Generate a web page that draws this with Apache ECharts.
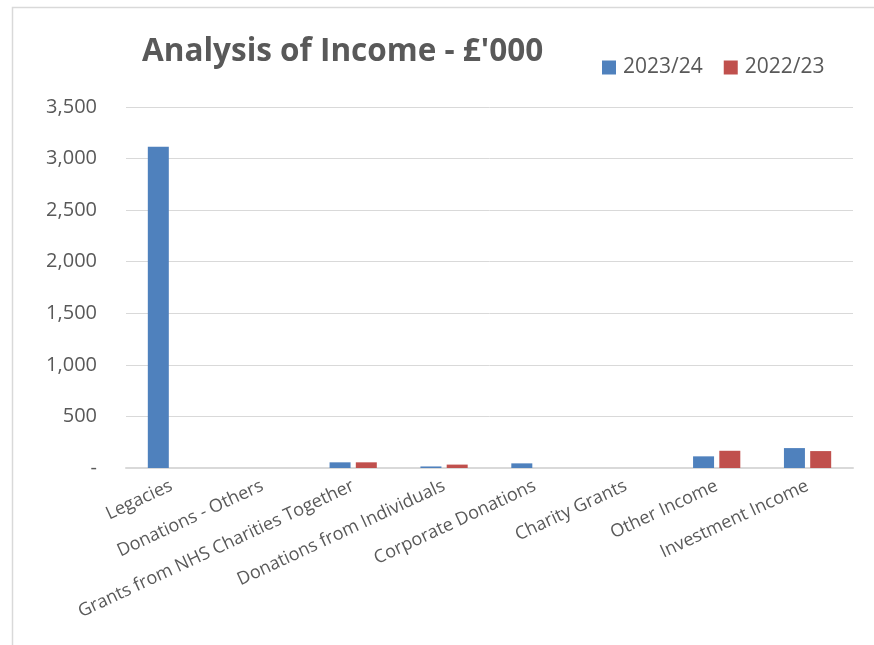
<!DOCTYPE html>
<html>
<head>
<meta charset="utf-8">
<script src="https://cdn.jsdelivr.net/npm/echarts@6/dist/echarts.min.js"></script>
<style>
html,body{margin:0;padding:0;background:#fff;}
#chart{width:874px;height:645px;}
</style>
</head>
<body>
<div id="chart"></div>
<script>
var categories = ['Legacies', 'Donations - Others', 'Grants from NHS Charities Together', 'Donations from Individuals', 'Corporate Donations', 'Charity Grants', 'Other Income', 'Investment Income'];
var seriesNames = ['2023/24', '2022/23'];
var values2023 = [3114, 0, 55, 15, 45, 0, 113, 193];
var values2022 = [0, 0, 55, 33, 0, 0, 167, 164];
var yTicks = { min: 0, max: 3500, interval: 500 };

var FONT = 'Open Sans';
var TXT = '#595959';
var chart = echarts.init(document.getElementById('chart'), null, { renderer: 'canvas' });
chart.setOption({
  animation: false,
  backgroundColor: '#ffffff',
  graphic: [{
    type: 'rect', left: 10, top: 5,
    shape: { width: 880, height: 660 },
    style: { fill: 'none', stroke: '#d9d9d9', lineWidth: 1.5 }
  }],
  title: {
    text: "Analysis of Income - £'000",
    left: 137, top: 31,
    textStyle: { fontFamily: FONT, fontWeight: 'bold', fontSize: 31.5, color: TXT }
  },
  legend: {
    data: seriesNames,
    left: 597, top: 52,
    itemWidth: 14, itemHeight: 14, itemGap: 21,
    icon: 'rect',
    textStyle: { fontFamily: FONT, fontSize: 21, color: TXT, padding: [0, 0, 0, 2] }
  },
  grid: { left: 126, right: 21, top: 107, bottom: 177, containLabel: false },
  xAxis: {
    type: 'category',
    data: categories,
    boundaryGap: true,
    axisLine: { lineStyle: { color: '#d9d9d9', width: 2 } },
    axisTick: { show: false },
    axisLabel: { rotate: 25, fontFamily: FONT, fontSize: 18, color: TXT, margin: 17, interval: 0 }
  },
  yAxis: {
    type: 'value',
    min: yTicks.min, max: yTicks.max, interval: yTicks.interval,
    axisLine: { show: false },
    axisTick: { show: false },
    splitLine: { lineStyle: { color: '#d9d9d9', width: 1 } },
    axisLabel: {
      fontFamily: FONT, fontSize: 20, color: TXT, margin: 29,
      formatter: function (v) { return v === 0 ? '-' : v.toLocaleString('en-GB'); }
    }
  },
  series: [
    { name: seriesNames[0], type: 'bar', data: values2023, barWidth: 21, barGap: '25%',
      itemStyle: { color: '#4f81bd' } },
    { name: seriesNames[1], type: 'bar', data: values2022, barWidth: 21, barGap: '25%',
      itemStyle: { color: '#c0504d' } }
  ]
});
</script>
</body>
</html>
